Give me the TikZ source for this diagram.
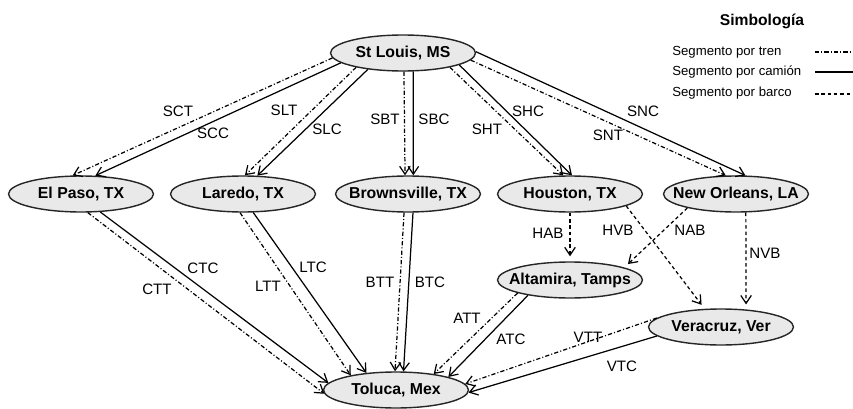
\documentclass[tikz,border=0pt]{standalone}
\usepackage{fontspec}
\setmainfont{Liberation Sans}
\usetikzlibrary{arrows.meta, positioning, shapes.geometric}

\tikzset{
  city/.style={ellipse, draw=black!85, line width=0.8pt, fill=gray!17,
    minimum width=2.9cm, minimum height=0.72cm, inner xsep=-15pt, inner ysep=0pt,
    font=\bfseries\fontsize{9}{10}\selectfont},
  ruta/.style={-{Straight Barb[length=4.5pt,width=6pt]}, line width=0.7pt},
  tren/.style={dash pattern=on 2.4pt off 1.2pt on 0.6pt off 1.2pt},
  barco/.style={dash pattern=on 2pt off 1.6pt, shorten >=1mm},
  lbl/.style={font=\fontsize{8.6}{10}\selectfont, inner sep=1pt},
  leg/.style={anchor=west, font=\fontsize{7.5}{9}\selectfont, inner sep=0pt}
}

\begin{document}
\begin{tikzpicture}[x=0.02cm, y=-0.02cm]
  \useasboundingbox (0,0) rectangle (853,409);
  % ---------- cities ----------
  \node[city] (stl) at (403,53) {St Louis, MS};
  \node[city] (elp) at (81,194) {El Paso, TX};
  \node[city] (lar) at (243,194) {Laredo, TX};
  \node[city] (bro) at (408,194) {Brownsville, TX};
  \node[city] (hou) at (570,194) {Houston, TX};
  \node[city] (nol) at (736,194) {New Orleans, LA};
  \node[city] (alt) at (570,280) {Altamira, Tamps};
  \node[city] (ver) at (721,327) {Veracruz, Ver};
  \node[city] (tol) at (396,390) {Toluca, Mex};
  % ---------- from St Louis ----------
  \draw[ruta,tren] (stl.184) -- (elp.114);
  \draw[ruta] (stl.189) -- (elp.52);
  \draw[ruta,tren] (stl.197) -- (lar.84);
  \draw[ruta] (stl.205) -- (lar.52);
  \draw[ruta,tren] (stl.273) -- (bro.99);
  \draw[ruta] (stl.299) -- (bro.74);
  \draw[ruta,tren] (stl.343) -- (hou.110);
  \draw[ruta] (stl.348) -- (hou.84);
  \draw[ruta,tren] (stl.354) -- (nol.119);
  \draw[ruta] (stl.1) -- (nol.63);
  % ---------- by ship ----------
  \draw[ruta,barco] (hou.270) -- (alt.90);
  \draw[ruta,barco] (hou.348) -- (ver.132);
  \draw[ruta,barco] (nol.196) -- (alt.13);
  \draw[ruta,barco] (nol.298) -- (ver.35);
  % ---------- to Toluca ----------
  \draw[ruta,tren] (elp.290) -- (tol.183);
  \draw[ruta] (elp.317) -- (tol.174);
  \draw[ruta,tren] (lar.261) -- (tol.162);
  \draw[ruta] (lar.299) -- (tol.150);
  \draw[ruta,tren] (bro.258) -- (tol.93);
  \draw[ruta] (bro.285) -- (tol.68);
  \draw[ruta,tren] (alt.194) -- (tol.23);
  \draw[ruta] (alt.200) -- (tol.14);
  \draw[ruta,tren] (ver.172) -- (tol.5);
  \draw[ruta] (ver.188) -- (tol.358);
  % ---------- labels ----------
  \node[lbl] (sct) at (178,111) {SCT};
  \node[lbl] (scc) at (213,133) {SCC};
  \node[lbl] (slt) at (284,110) {SLT};
  \node[lbl] (slc) at (327,129) {SLC};
  \node[lbl] (sbt) at (385,119) {SBT};
  \node[lbl] (sbc) at (434,119) {SBC};
  \node[lbl] (sht) at (487,129) {SHT};
  \node[lbl] (shc) at (528,111) {SHC};
  \node[lbl] (snt) at (608,135) {SNT};
  \node[lbl] (snc) at (643,111) {SNC};
  \node[lbl] (hab) at (548,233) {HAB};
  \node[lbl] (hvb) at (618,230) {HVB};
  \node[lbl] (nab) at (690,230) {NAB};
  \node[lbl] (nvb) at (765,253) {NVB};
  \node[lbl] (ctc) at (203,268) {CTC};
  \node[lbl] (ctt) at (157,289) {CTT};
  \node[lbl] (ltt) at (268,286) {LTT};
  \node[lbl] (ltc) at (313,267) {LTC};
  \node[lbl] (btt) at (380,282) {BTT};
  \node[lbl] (btc) at (430,282) {BTC};
  \node[lbl] (att) at (467,318) {ATT};
  \node[lbl] (atc) at (511,339) {ATC};
  \node[lbl] (vtt) at (588,337) {VTT};
  \node[lbl] (vtc) at (622,366) {VTC};
  % ---------- legend ----------
  \node[font=\bfseries\fontsize{8.9}{10}\selectfont] (simb) at (762,21) {Simbología};
  \node[leg] (ltren) at (672,52) {Segmento por tren};
  \node[leg] (lcamion) at (672,72) {Segmento por camión};
  \node[leg] (lbarco) at (672,93) {Segmento por barco};
  \draw[tren, line width=0.7pt] (815,52) -- (853,52);
  \draw[line width=0.7pt] (815,72) -- (853,72);
  \draw[dash pattern=on 2pt off 1.6pt, line width=0.7pt] (815,94) -- (853,94);
\end{tikzpicture}
\end{document}
